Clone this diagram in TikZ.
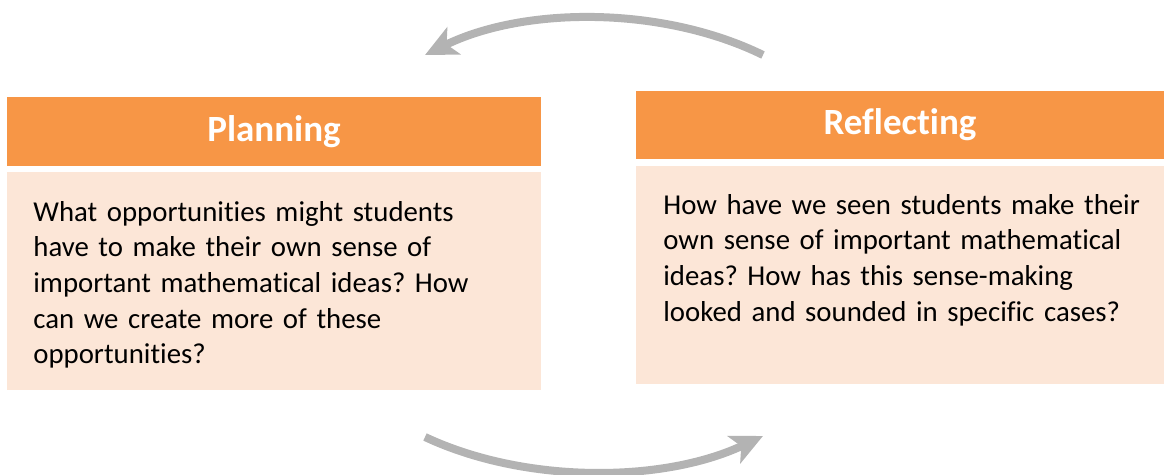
\documentclass[tikz,border=0pt]{standalone}
\usepackage{fontspec}
\setmainfont[Ligatures={NoCommon}]{Carlito}
\usetikzlibrary{arrows.meta}
\definecolor{hdrorange}{HTML}{F79646}
\definecolor{bodypeach}{HTML}{FCE6D7}
\definecolor{arrowgray}{HTML}{B3B3B3}

\begin{document}
\frenchspacing
\begin{tikzpicture}[x=0.5pt,y=-0.5pt,
		header/.style={fill=hdrorange, text=white, inner sep=0pt, font=\fontsize{18.5}{22}\selectfont\bfseries},
		panel/.style={fill=bodypeach, inner sep=0pt},
		question/.style={anchor=north west, inner sep=0pt, align=left, text width=250pt, font=\fontsize{14.4}{17.8}\selectfont},
		cyclearrow/.style={draw=arrowgray, line width=4pt, -{Stealth[length=16pt, width=15pt, inset=4pt]}}]
		%%%%% START %%%%%
		
		\useasboundingbox (0, 0) rectangle (1164, 475);
		
		% planning box
		\node[header, minimum width=267pt, minimum height=34.5pt] (planhead) at (274, 131.5) {Planning};
		\node[panel, minimum width=267pt, minimum height=109pt] (planbody) at (274, 281) {};
		\node[question] (plantext) at (33, 201) {What opportunities might students\\have to make their own sense of\\important mathematical ideas? How\\can we create more of these\\opportunities?};
		
		% reflecting box
		\node[header, minimum width=264pt, minimum height=34pt] (reflhead) at (900, 125) {Reflecting};
		\node[panel, minimum width=264pt, minimum height=109pt] (reflbody) at (900, 275) {};
		\node[question] (refltext) at (663, 194) {How have we seen students make their\\own sense of important mathematical\\ideas? How has this sense-making\\looked and sounded in specific cases?};
		
		% cycle arrows
		\coordinate (topstart) at (763, 55);
		\coordinate (topend) at (425, 55);
		\coordinate (botstart) at (425, 437);
		\coordinate (botend) at (763, 436);
		\draw[cyclearrow] (topstart) .. controls +(-100, -49) and +(100, -49) .. (topend);
		\draw[cyclearrow] (botstart) .. controls +(100, 47) and +(-100, 47) .. (botend);
		
		%%%%% END %%%%%
	\end{tikzpicture}
\end{document}
